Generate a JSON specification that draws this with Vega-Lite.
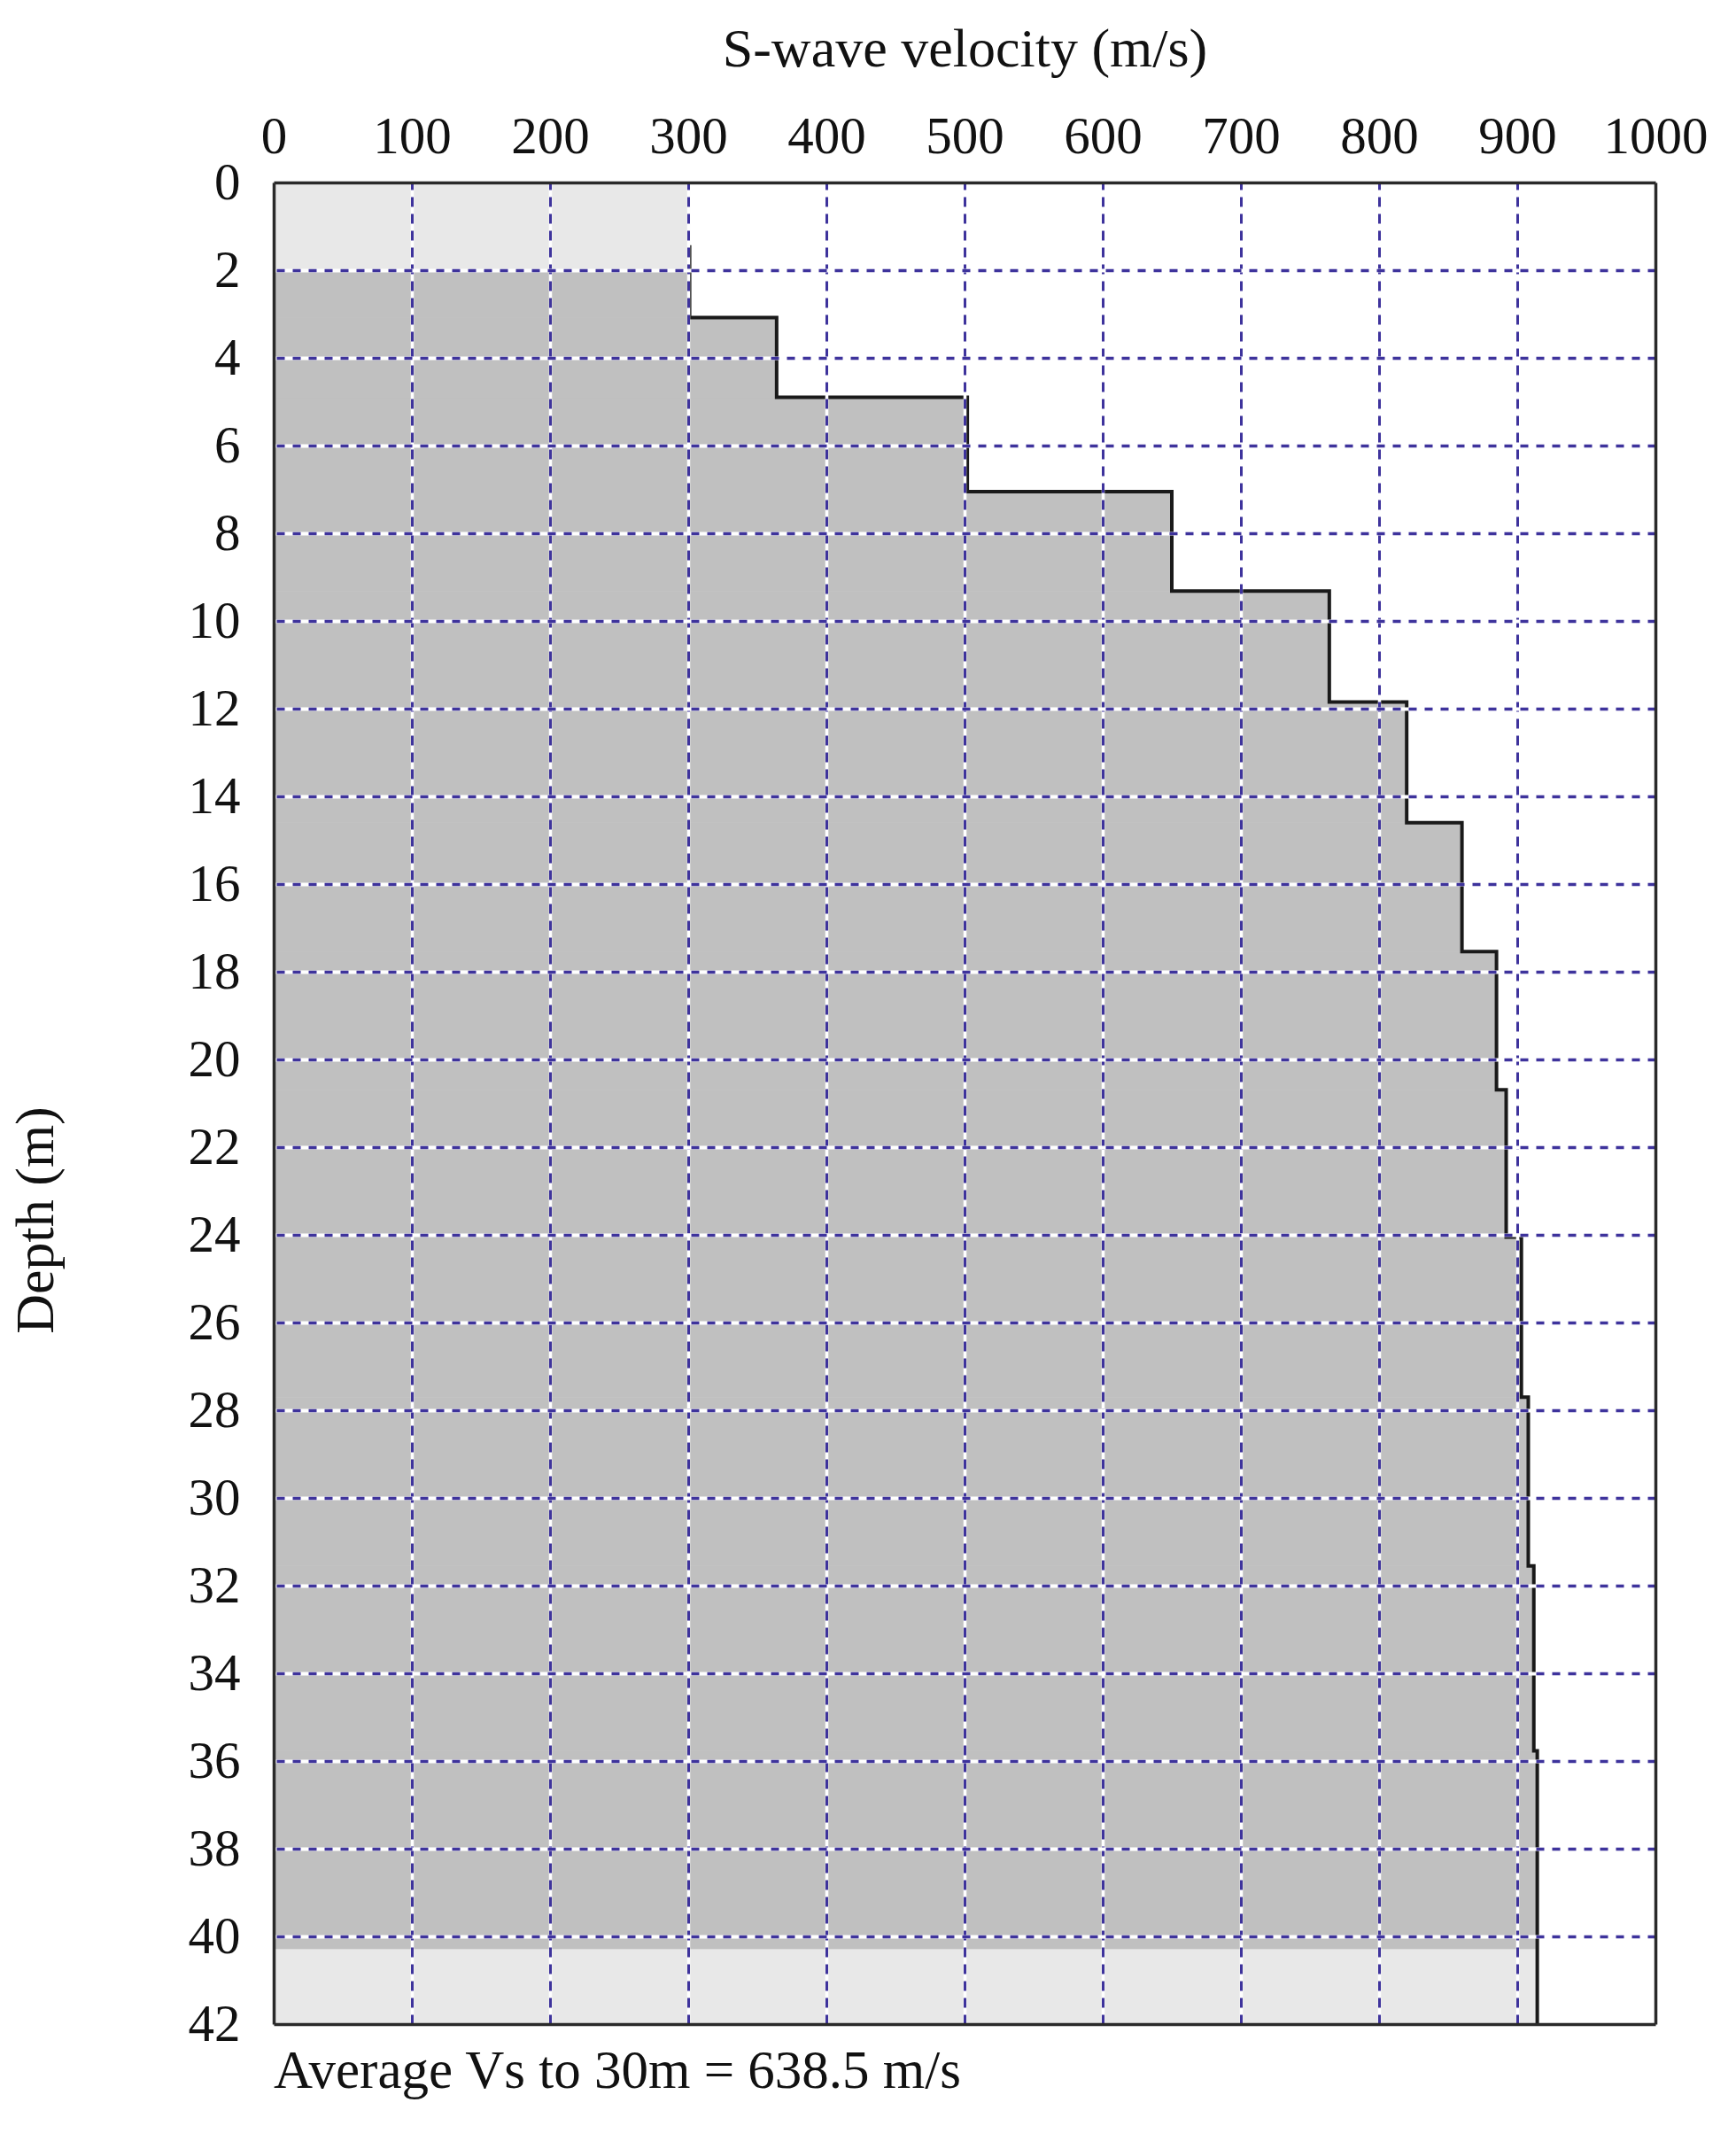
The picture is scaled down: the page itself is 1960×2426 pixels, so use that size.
{
  "$schema": "https://vega.github.io/schema/vega-lite/v6.json",
  "width": 1560,
  "height": 2079,
  "autosize": "none",
  "padding": {"left": 309, "top": 206, "right": 91, "bottom": 141},
  "background": "white",
  "config": {
    "view": {"stroke": null},
    "font": "Liberation Serif"
  },
  "title": {
    "text": "Average Vs to 30m = 638.5 m/s",
    "orient": "bottom",
    "anchor": "start",
    "frame": "group",
    "font": "Liberation Serif",
    "fontSize": 61,
    "fontWeight": "normal",
    "color": "#111111",
    "offset": -6
  },
  "datasets": {
    "layers": [
      {"top": 0, "bottom": 2, "vs": 301, "zone": "light"},
      {"top": 2, "bottom": 3.08, "vs": 301, "zone": "dark"},
      {"top": 3.08, "bottom": 4.9, "vs": 364, "zone": "dark"},
      {"top": 4.9, "bottom": 7.05, "vs": 502, "zone": "dark"},
      {"top": 7.05, "bottom": 9.32, "vs": 650, "zone": "dark"},
      {"top": 9.32, "bottom": 11.85, "vs": 764, "zone": "dark"},
      {"top": 11.85, "bottom": 14.6, "vs": 820, "zone": "dark"},
      {"top": 14.6, "bottom": 17.54, "vs": 860, "zone": "dark"},
      {"top": 17.54, "bottom": 20.69, "vs": 885, "zone": "dark"},
      {"top": 20.69, "bottom": 24.05, "vs": 892, "zone": "dark"},
      {"top": 24.05, "bottom": 27.7, "vs": 903, "zone": "dark"},
      {"top": 27.7, "bottom": 31.55, "vs": 908, "zone": "dark"},
      {"top": 31.55, "bottom": 35.77, "vs": 912, "zone": "dark"},
      {"top": 35.77, "bottom": 40.3, "vs": 914.5, "zone": "dark"},
      {"top": 40.3, "bottom": 42, "vs": 914.5, "zone": "light"}
    ],
    "profile": [
      {"depth": 1.43, "vs": 301},
      {"depth": 3.08, "vs": 364},
      {"depth": 4.9, "vs": 502},
      {"depth": 7.05, "vs": 650},
      {"depth": 9.32, "vs": 764},
      {"depth": 11.85, "vs": 820},
      {"depth": 14.6, "vs": 860},
      {"depth": 17.54, "vs": 885},
      {"depth": 20.69, "vs": 892},
      {"depth": 24.05, "vs": 903},
      {"depth": 27.7, "vs": 908},
      {"depth": 31.55, "vs": 912},
      {"depth": 35.77, "vs": 914.5},
      {"depth": 42, "vs": 914.5}
    ]
  },
  "layer": [
    {
      "data": {"name": "layers"},
      "mark": {"type": "rect", "strokeWidth": 0.8},
      "encoding": {
        "x": {
          "field": "vs",
          "type": "quantitative",
          "scale": {"domain": [0, 1000], "nice": false, "zero": false},
          "axis": {
            "orient": "top",
            "values": [0, 100, 200, 300, 400, 500, 600, 700, 800, 900, 1000],
            "format": "d",
            "title": "S-wave velocity (m/s)",
            "titleFont": "Liberation Serif",
            "titleFontSize": 62,
            "titleFontWeight": "normal",
            "titleColor": "#111111",
            "titlePadding": 38,
            "labelFont": "Liberation Serif",
            "labelFontSize": 59,
            "labelColor": "#111111",
            "labelPadding": 22,
            "labelFlush": false,
            "labelOverlap": false,
            "ticks": false,
            "domain": true,
            "domainColor": "#2a2a2a",
            "domainWidth": 3.5,
            "grid": true,
            "gridColor": "#ffffff",
            "gridWidth": 3.5,
            "gridOpacity": {"condition": {"test": "datum.value === 0 || datum.value === 1000", "value": 0}, "value": 1},
            "zindex": 1
          }
        },
        "x2": {"datum": 0},
        "y": {
          "field": "top",
          "type": "quantitative",
          "scale": {"domain": [0, 42], "reverse": true, "nice": false, "zero": false},
          "axis": {
            "orient": "left",
            "values": [0, 2, 4, 6, 8, 10, 12, 14, 16, 18, 20, 22, 24, 26, 28, 30, 32, 34, 36, 38, 40, 42],
            "title": "Depth (m)",
            "titleFont": "Liberation Serif",
            "titleFontSize": 62,
            "titleFontWeight": "normal",
            "titleColor": "#111111",
            "titleX": -237,
            "titleY": 1171,
            "labelFont": "Liberation Serif",
            "labelFontSize": 59,
            "labelColor": "#111111",
            "labelPadding": 38,
            "labelFlush": false,
            "labelOverlap": false,
            "ticks": false,
            "domain": true,
            "domainColor": "#2a2a2a",
            "domainWidth": 3.5,
            "grid": true,
            "gridColor": "#ffffff",
            "gridWidth": 4,
            "gridOpacity": {"condition": {"test": "datum.value === 0 || datum.value === 42", "value": 0}, "value": 1},
            "zindex": 1
          }
        },
        "y2": {"field": "bottom"},
        "color": {
          "field": "zone",
          "type": "nominal",
          "scale": {"domain": ["light", "dark"], "range": ["#e8e8e8", "#c0c0c0"]},
          "legend": null
        },
        "stroke": {
          "field": "zone",
          "type": "nominal",
          "scale": {"domain": ["light", "dark"], "range": ["#e8e8e8", "#c0c0c0"]},
          "legend": null
        }
      }
    },
    {
      "data": {"name": "profile"},
      "mark": {"type": "line", "interpolate": "step-before", "color": "#1a1a1a", "strokeWidth": 4},
      "encoding": {
        "x": {
          "field": "vs",
          "type": "quantitative",
          "scale": {"domain": [0, 1000], "nice": false, "zero": false},
          "axis": {
            "orient": "bottom",
            "values": [100, 200, 300, 400, 500, 600, 700, 800, 900],
            "title": null,
            "labels": false,
            "ticks": false,
            "domain": true,
            "domainColor": "#2a2a2a",
            "domainWidth": 3.5,
            "grid": true,
            "gridColor": "#3e339c",
            "gridWidth": 3,
            "gridDash": [11, 8],
            "zindex": 1
          }
        },
        "y": {
          "field": "depth",
          "type": "quantitative",
          "scale": {"domain": [0, 42], "reverse": true, "nice": false, "zero": false},
          "axis": {
            "orient": "right",
            "values": [2, 4, 6, 8, 10, 12, 14, 16, 18, 20, 22, 24, 26, 28, 30, 32, 34, 36, 38, 40],
            "title": null,
            "labels": false,
            "ticks": false,
            "domain": true,
            "domainColor": "#2a2a2a",
            "domainWidth": 3.5,
            "grid": true,
            "gridColor": "#3e339c",
            "gridWidth": 3.5,
            "gridDash": [9, 9],
            "zindex": 1
          }
        },
        "order": {"field": "depth", "type": "quantitative"}
      }
    }
  ],
  "resolve": {"axis": {"x": "independent", "y": "independent"}}
}
